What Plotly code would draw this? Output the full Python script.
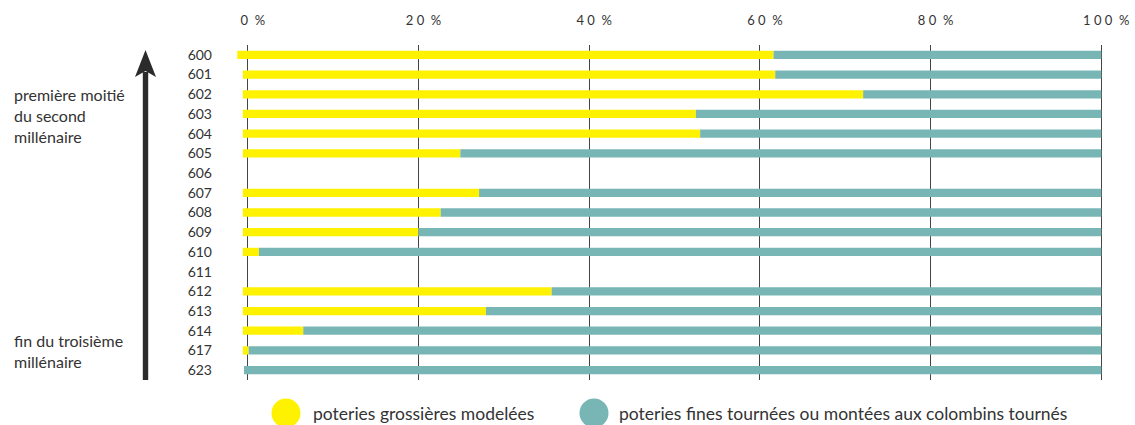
import plotly.graph_objects as go

# ---------------- data ----------------
sites = ["600", "601", "602", "603", "604", "605", "606", "607", "608",
         "609", "610", "611", "612", "613", "614", "617", "623"]
# share of coarse hand-made pottery (%)
grossieres = [61.6, 61.8, 72.1, 52.5, 53.0, 24.9, None, 27.1, 22.6,
              20.0, 1.3, None, 35.6, 27.9, 6.5, 0.1, 0.0]
# share of fine wheel-thrown pottery (%)
fines = [38.4, 38.2, 27.9, 47.5, 47.0, 75.1, None, 72.9, 77.4,
         80.0, 98.7, None, 64.4, 72.1, 93.5, 99.9, 100.0]
# where each bar starts (as read on the picture, in %)
bar_start = [-1.24, -0.59, -0.59, -0.59, -0.59, -0.59, None, -0.59, -0.59,
             -0.59, -0.59, None, -0.59, -0.59, -0.59, -0.59, -0.45]
tick_vals = [0, 20, 40, 60, 80, 100]
tick_text = ["0  %", "2 0  %", "4 0  %", "6 0  %", "8 0  %", "1 0 0  %"]
label_top = "première moitié<br>du second<br>millénaire"
label_bottom = "fin du troisième<br>millénaire"
legend_names = ["poteries grossières modelées",
                "poteries fines tournées ou montées aux colombins tournés"]

YELLOW = "#FFF200"
TEAL = "#78B5B5"
TEXT = "#333333"
FONT = "Lato"

W, H = 1135, 425
ML, MR, MT, MB = 235, 32, 45, 45
PW, PH = W - ML - MR, H - MT - MB


def px(x):
    return (x - ML) / PW


def py(y):
    return 1 - (y - MT) / PH


# yellow bars run from the bar start to the yellow share,
# teal bars from there to 100 %
y_base, y_len, t_base, t_len = [], [], [], []
for s, g, f in zip(bar_start, grossieres, fines):
    if s is None:
        y_base.append(None); y_len.append(None)
        t_base.append(None); t_len.append(None)
    elif g > 0:
        y_base.append(s); y_len.append(g - s)
        t_base.append(g); t_len.append(f)
    else:
        y_base.append(None); y_len.append(None)
        t_base.append(s); t_len.append(f - s)

fig = go.Figure()
fig.add_trace(go.Bar(
    y=sites, x=y_len, base=y_base, orientation="h",
    marker=dict(color=YELLOW, line=dict(width=0)), width=0.42,
    name=legend_names[0], showlegend=False, hoverinfo="skip"))
fig.add_trace(go.Bar(
    y=sites, x=t_len, base=t_base, orientation="h",
    marker=dict(color=TEAL, line=dict(width=0)), width=0.42,
    name=legend_names[1], showlegend=False, hoverinfo="skip"))

fig.update_layout(
    width=W, height=H, autosize=False,
    margin=dict(l=ML, r=MR, t=MT, b=MB, pad=0, autoexpand=False),
    paper_bgcolor="white", plot_bgcolor="white",
    barmode="overlay", showlegend=False,
    font=dict(family=FONT, color=TEXT, size=13),
    xaxis=dict(
        range=[-1.5, 100.2], side="top", tickvals=tick_vals, ticktext=tick_text,
        showgrid=True, gridcolor="#444444", gridwidth=1,
        zeroline=True, zerolinecolor="#444444", zerolinewidth=1,
        showline=False, ticks="", layer="above traces", automargin=False,
        tickfont=dict(family=FONT, size=13, color=TEXT),
        ticklabelstandoff=16, ticklabelshift=5, fixedrange=True),
    yaxis=dict(
        type="category", categoryorder="array", categoryarray=sites,
        autorange="reversed", showgrid=False, zeroline=False, automargin=False,
        showline=False, ticks="", ticklabelstandoff=22,
        tickfont=dict(family=FONT, size=14, color=TEXT), fixedrange=True),
)

shapes = []
# arrow shaft
shapes.append(dict(type="rect", xref="paper", yref="paper",
                   x0=px(142.8), x1=px(148.2), y0=py(380), y1=py(72),
                   fillcolor="#2b2b2b", line=dict(width=0), layer="above"))
# arrow head
pts = [(145.5, 50), (156, 77), (145.5, 71), (135, 77)]
path = "M " + " L ".join(f"{px(a):.5f},{py(b):.5f}" for a, b in pts) + " Z"
shapes.append(dict(type="path", xref="paper", yref="paper", path=path,
                   fillcolor="#2b2b2b", line=dict(width=0), layer="above"))
# legend circles
for cx, col in [(286, YELLOW), (594, TEAL)]:
    r = 14.5
    shapes.append(dict(type="circle", xref="paper", yref="paper",
                       x0=px(cx - r), x1=px(cx + r), y0=py(413 + r), y1=py(413 - r),
                       fillcolor=col, line=dict(width=0), layer="above"))
fig.update_layout(shapes=shapes)

annotations = [
    dict(text=label_top, x=px(12), y=py(116), xref="paper", yref="paper",
         xanchor="left", yanchor="middle", align="left", showarrow=False,
         font=dict(family=FONT, size=16, color=TEXT)),
    dict(text=label_bottom, x=px(12), y=py(351), xref="paper", yref="paper",
         xanchor="left", yanchor="middle", align="left", showarrow=False,
         font=dict(family=FONT, size=16, color=TEXT)),
    dict(text=legend_names[0], x=px(311), y=py(413), xref="paper", yref="paper",
         xanchor="left", yanchor="middle", showarrow=False,
         font=dict(family=FONT, size=17.5, color=TEXT)),
    dict(text=legend_names[1], x=px(617), y=py(413), xref="paper", yref="paper",
         xanchor="left", yanchor="middle", showarrow=False,
         font=dict(family=FONT, size=17.5, color=TEXT)),
]
fig.update_layout(annotations=annotations)

fig.write_html("out.html", config={"displayModeBar": False},
               post_script="document.body.style.margin='0';"
                           "document.body.style.overflow='hidden';")
